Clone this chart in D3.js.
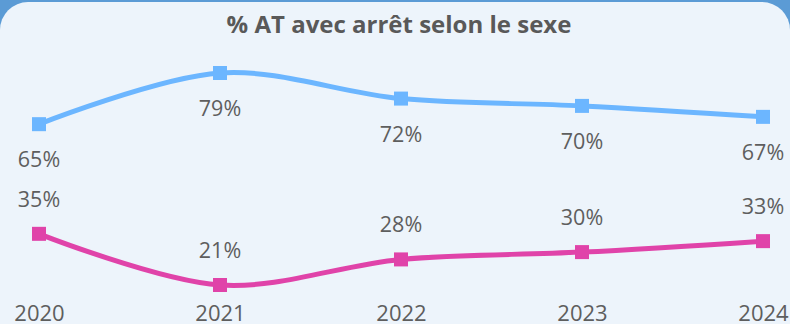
<!DOCTYPE html>
<html>
<head>
<meta charset="utf-8">
<script src="https://cdn.jsdelivr.net/npm/d3@7"></script>
<style>
  html, body { margin: 0; padding: 0; background: #5B9BD5; }
  svg { display: block; }
</style>
</head>
<body>
<svg id="chart" width="790" height="324"></svg>
<script>
// Share of work accidents with sick leave, by sex
const years = ["2020", "2021", "2022", "2023", "2024"];
const hommes = [65, 79, 72, 70, 67];
const femmes = [35, 21, 28, 30, 33];
const title = "% AT avec arrêt selon le sexe";

const W = 790, H = 324;
const svg = d3.select("#chart");

// panel background with rounded top corners
svg.append("rect")
  .attr("x", 0).attr("y", 2)
  .attr("width", W).attr("height", H + 40)
  .attr("rx", 28).attr("ry", 28)
  .attr("fill", "#EDF4FB");

svg.append("text")
  .attr("x", 399).attr("y", 33)
  .attr("text-anchor", "middle")
  .attr("font-family", "'Open Sans', sans-serif")
  .attr("font-weight", "bold")
  .attr("font-size", 24)
  .attr("fill", "#595959")
  .text(title);

const x = d3.scalePoint().domain(years).range([39, 763]);
const y = d3.scaleLinear().domain([21, 79]).range([285, 73]);

const line = d3.line()
  .x((d, i) => x(years[i]))
  .y(d => y(d))
  .curve(d3.curveCatmullRom.alpha(0.5));

const series = [
  { values: hommes, color: "#6CB6FF", dy: 43 },
  { values: femmes, color: "#E043A9", dy: -27 }
];

series.forEach(s => {
  svg.append("path")
    .datum(s.values)
    .attr("d", line)
    .attr("fill", "none")
    .attr("stroke", s.color)
    .attr("stroke-width", 5);

  svg.selectAll(null)
    .data(s.values)
    .enter().append("rect")
    .attr("x", (d, i) => x(years[i]) - 7)
    .attr("y", d => y(d) - 7)
    .attr("width", 14).attr("height", 14)
    .attr("fill", s.color);

  svg.selectAll(null)
    .data(s.values)
    .enter().append("text")
    .attr("x", (d, i) => x(years[i]))
    .attr("y", d => y(d) + s.dy)
    .attr("text-anchor", "middle")
    .attr("font-family", "'Open Sans', sans-serif")
    .attr("font-size", 21.5)
    .attr("fill", "#5E5E5E")
    .text(d => d + "%");
});

// category axis labels along the bottom edge
const xAxis = d3.axisBottom(x).tickSize(0).tickPadding(0);
const gx = svg.append("g").attr("transform", "translate(0,305)").call(xAxis);
gx.select(".domain").remove();
gx.selectAll("text")
  .attr("dy", "0.71em")
  .attr("font-family", "'Open Sans', sans-serif")
  .attr("font-size", 22)
  .attr("fill", "#5E5E5E");
</script>
</body>
</html>
